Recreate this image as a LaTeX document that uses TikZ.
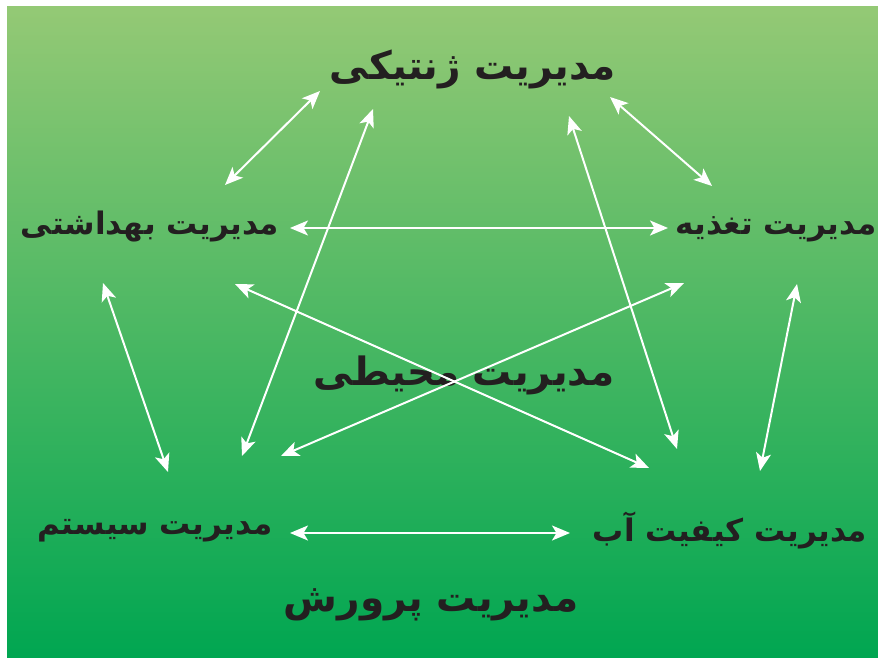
\documentclass[tikz,border=0pt]{standalone}
\usepackage{fontspec}
\usetikzlibrary{arrows.meta}
\TeXXeTstate=1
\newfontfamily\arabicfont[Script=Arabic]{DejaVu Sans}
\definecolor{topgreen}{RGB}{148,201,117}
\definecolor{botgreen}{RGB}{0,166,81}
\definecolor{txt}{RGB}{35,31,32}
\tikzset{
  lbl/.style={text=txt,inner sep=0pt,font=\arabicfont\bfseries\fontsize{31}{36}\selectfont},
  biglbl/.style={lbl,font=\arabicfont\bfseries\fontsize{39}{46}\selectfont},
  tip/.style={Stealth[length=18pt,width=15pt,inset=4.5pt]},
  link/.style={draw=white,line width=2pt,{Stealth[length=18pt,width=15pt,inset=4.5pt]}-{Stealth[length=18pt,width=15pt,inset=4.5pt]}}
}
\begin{document}
\begin{tikzpicture}[x=1pt,y=-1pt]
\useasboundingbox (0,0) rectangle (878,658);
\fill[white] (0,0) rectangle (878,658);
\begin{scope}
\clip (7,7) rectangle (878,658);
\shade[top color=topgreen,bottom color=botgreen] (7,7) rectangle (878,658);
\node[biglbl] (gen) at (473,69) {\beginR مدیریت ژنتیکی\endR};
\node[lbl] (beh) at (150,227) {\beginR مدیریت بهداشتی\endR};
\node[lbl] (tag) at (776,229) {\beginR مدیریت تغذیه\endR};
\node[biglbl] (moh) at (464,375) {\beginR مدیریت محیطی\endR};
\node[lbl] (sis) at (155,531) {\beginR مدیریت سیستم\endR};
\node[lbl] (kab) at (730,530) {\beginR مدیریت کیفیت آب\endR};
\node[biglbl] (par) at (431,605) {\beginR مدیریت پرورش\endR};
\end{scope}
% arrow end points
\coordinate (a1) at (225,185); \coordinate (b1) at (320,91);
\coordinate (a2) at (242,456); \coordinate (b2) at (373,109);
\coordinate (a3) at (290,228); \coordinate (b3) at (668,228);
\coordinate (a4) at (610,97);  \coordinate (b4) at (712,186);
\coordinate (a5) at (569,116); \coordinate (b5) at (677,449);
\coordinate (a6) at (103,283); \coordinate (b6) at (168,472);
\coordinate (a7) at (235,284); \coordinate (b7) at (649,468);
\coordinate (a8) at (281,456); \coordinate (b8) at (684,283);
\coordinate (a9) at (797,284); \coordinate (b9) at (760,471);
\coordinate (a10) at (290,533); \coordinate (b10) at (570,533);
\foreach \i in {1,...,10} \draw[link] (a\i) -- (b\i);
\end{tikzpicture}
\end{document}
